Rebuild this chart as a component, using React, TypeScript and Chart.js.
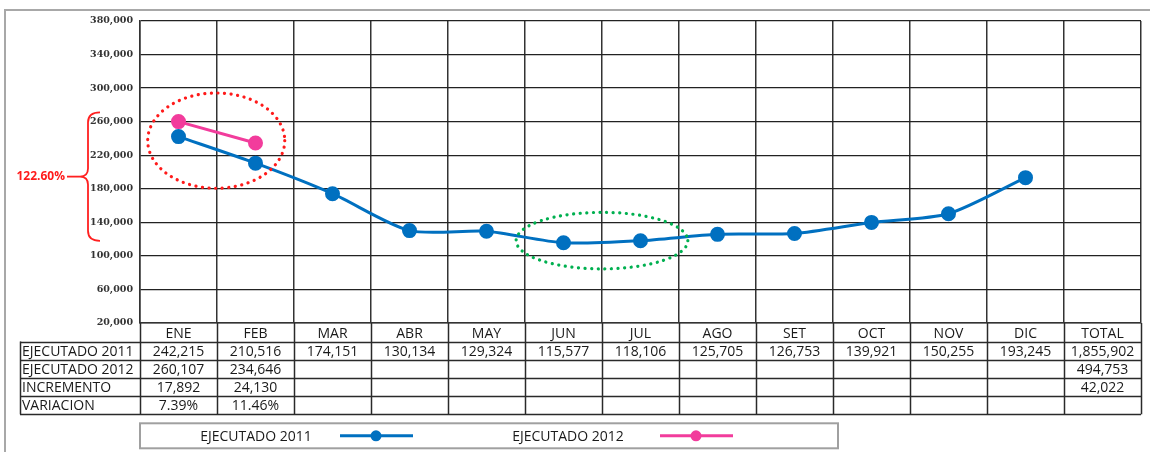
import React, { useEffect, useRef } from "react";
import { Chart, registerables } from "chart.js";

Chart.register(...registerables);

const months = ["ENE", "FEB", "MAR", "ABR", "MAY", "JUN", "JUL", "AGO", "SET", "OCT", "NOV", "DIC"];
const totalLabel = "TOTAL";
const ejecutado2011 = [242215, 210516, 174151, 130134, 129324, 115577, 118106, 125705, 126753, 139921, 150255, 193245];
const ejecutado2012 = [260107, 234646];
const incremento = [17892, 24130];
const variacion = ["7.39%", "11.46%"];
const total2011 = 1855902;
const total2012 = 494753;
const totalIncremento = 42022;
const rowLabels = ["EJECUTADO 2011", "EJECUTADO 2012", "INCREMENTO", "VARIACION"];
const seriesNames = ["EJECUTADO 2011", "EJECUTADO 2012"];
const yMin = 20000;
const yMax = 380000;
const yStep = 40000;
const bracketText = "122.60%";
const bracketRange = [271000, 118000];
const redEllipse = { x: [-0.4, 1.38], y: [294200, 180600] };
const greenEllipse = { x: [4.385, 6.615], y: [151900, 84500] };

const BLUE = "#0070C0";
const PINK = "#F23C9C";
const fmt = (v: number) => v.toLocaleString("en-US");

const tablePlugin = {
  id: "tablePlugin",
  afterDraw(chart: any) {
    const ctx = chart.ctx;
    const x = chart.scales.x;
    const ca = chart.chartArea;
    const n = months.length + 1;
    const colW = (ca.right - ca.left) / n;
    const rowTop = ca.bottom + 18.5;
    const rowH = 18.2;
    const labelLeft = 20;
    ctx.save();
    ctx.strokeStyle = "#2a2a2a";
    ctx.lineWidth = 1.5;
    const bottom = rowTop + rowH * 4;
    for (let i = 0; i <= n; i++) {
      const xx = Math.round(ca.left + colW * i) + 0.5;
      ctx.beginPath();
      ctx.moveTo(xx, ca.bottom);
      ctx.lineTo(xx, bottom);
      ctx.stroke();
    }
    for (let r = 0; r <= 4; r++) {
      const yy = Math.round(rowTop + rowH * r) + 0.5;
      ctx.beginPath();
      ctx.moveTo(labelLeft, yy);
      ctx.lineTo(ca.right, yy);
      ctx.stroke();
    }
    ctx.beginPath();
    ctx.moveTo(labelLeft + 0.5, rowTop);
    ctx.lineTo(labelLeft + 0.5, bottom);
    ctx.stroke();

    ctx.fillStyle = "#1a1a1a";
    ctx.font = "14px 'Open Sans'";
    ctx.textBaseline = "middle";
    ctx.textAlign = "left";
    rowLabels.forEach((l, r) => ctx.fillText(l, labelLeft + 2, rowTop + rowH * r + rowH / 2 + 1));
    ctx.textAlign = "center";
    const rows: (string | null)[][] = [
      ejecutado2011.map(fmt),
      ejecutado2012.map(fmt),
      incremento.map(fmt),
      variacion,
    ];
    rows.forEach((vals, r) => {
      vals.forEach((v, i) => {
        if (v != null) ctx.fillText(v, x.getPixelForValue(i), rowTop + rowH * r + rowH / 2 + 1);
      });
    });
    const totals = [fmt(total2011), fmt(total2012), fmt(totalIncremento), ""];
    totals.forEach((v, r) => ctx.fillText(v, x.getPixelForValue(months.length), rowTop + rowH * r + rowH / 2 + 1));

    // legend
    const lgTop = bottom + 9;
    const lgH = 25;
    const lgLeft = ca.left;
    const lgRight = 838;
    ctx.strokeStyle = "#a0a0a0";
    ctx.lineWidth = 2;
    ctx.strokeRect(lgLeft, lgTop, lgRight - lgLeft, lgH);
    const ly = lgTop + lgH / 2;
    const entries = [
      { name: seriesNames[0], color: BLUE, tx: 256, lx: 340 },
      { name: seriesNames[1], color: PINK, tx: 568, lx: 660 },
    ];
    ctx.font = "14px 'Open Sans'";
    entries.forEach((e) => {
      ctx.fillStyle = "#1a1a1a";
      ctx.fillText(e.name, e.tx, ly + 1);
      ctx.strokeStyle = e.color;
      ctx.lineWidth = 3;
      ctx.beginPath();
      ctx.moveTo(e.lx, ly);
      ctx.lineTo(e.lx + 73, ly);
      ctx.stroke();
      ctx.fillStyle = e.color;
      ctx.beginPath();
      ctx.arc(e.lx + 36, ly, 5.5, 0, Math.PI * 2);
      ctx.fill();
    });

    ctx.strokeStyle = "#a8a8a8";
    ctx.lineWidth = 2;
    ctx.strokeRect(5, 10, 1170, 470);
    ctx.restore();
  },
  afterDatasetsDraw(chart: any) {
    const ctx = chart.ctx;
    const x = chart.scales.x;
    const y = chart.scales.y;
    const ca = chart.chartArea;
    ctx.save();
    const drawEllipse = (e: any, color: string) => {
      const x1 = x.getPixelForValue(e.x[0]);
      const x2 = x.getPixelForValue(e.x[1]);
      const y1 = y.getPixelForValue(e.y[0]);
      const y2 = y.getPixelForValue(e.y[1]);
      ctx.strokeStyle = color;
      ctx.lineWidth = 3.2;
      ctx.setLineDash([0.1, 6.5]);
      ctx.lineCap = "round";
      ctx.beginPath();
      ctx.ellipse((x1 + x2) / 2, (y1 + y2) / 2, Math.abs(x2 - x1) / 2, Math.abs(y2 - y1) / 2, 0, 0, Math.PI * 2);
      ctx.stroke();
    };
    drawEllipse(redEllipse, "#FF1A1A");
    drawEllipse(greenEllipse, "#00B050");
    ctx.setLineDash([]);
    ctx.lineCap = "butt";

    const top = y.getPixelForValue(bracketRange[0]);
    const bot = y.getPixelForValue(bracketRange[1]);
    const mid = (top + bot) / 2;
    const bx = ca.left - 52;
    ctx.strokeStyle = "#FF2020";
    ctx.lineWidth = 1.8;
    ctx.beginPath();
    ctx.moveTo(bx + 12, top);
    ctx.quadraticCurveTo(bx, top, bx, top + 10);
    ctx.lineTo(bx, mid - 8);
    ctx.quadraticCurveTo(bx, mid, bx - 8, mid);
    ctx.quadraticCurveTo(bx, mid, bx, mid + 8);
    ctx.lineTo(bx, bot - 10);
    ctx.quadraticCurveTo(bx, bot, bx + 12, bot);
    ctx.stroke();
    ctx.beginPath();
    ctx.moveTo(bx - 8, mid);
    ctx.lineTo(bx - 21, mid);
    ctx.stroke();
    ctx.fillStyle = "#FF1A1A";
    ctx.font = "bold 12px 'Open Sans'";
    ctx.textAlign = "right";
    ctx.textBaseline = "middle";
    ctx.fillText(bracketText, bx - 23, mid);
    ctx.restore();
  },
};

export default function App() {
  const ref = useRef<HTMLCanvasElement | null>(null);
  useEffect(() => {
    if (!ref.current) return;
    const chart = new Chart(ref.current, {
      type: "line",
      data: {
        labels: [...months, totalLabel],
        datasets: [
          {
            label: seriesNames[0],
            data: ejecutado2011,
            borderColor: BLUE,
            backgroundColor: BLUE,
            borderWidth: 3,
            pointRadius: 6,
            pointHoverRadius: 6,
            tension: 0.25,
          },
          {
            label: seriesNames[1],
            data: ejecutado2012,
            borderColor: PINK,
            backgroundColor: PINK,
            borderWidth: 3,
            pointRadius: 6,
            pointHoverRadius: 6,
            tension: 0,
          },
        ],
      },
      options: {
        responsive: false,
        animation: false,
        layout: { padding: { left: 5, top: 21, right: -3, bottom: 0 } },
        plugins: { legend: { display: false }, tooltip: { enabled: false } },
        scales: {
          x: {
            type: "category",
            offset: true,
            grid: { offset: true, color: "#333", lineWidth: 1.5, drawTicks: false },
            border: { color: "#333", width: 1.5 },
            ticks: { color: "#1a1a1a", font: { family: "'Open Sans'", size: 14 }, padding: 3, maxRotation: 0, autoSkip: false },
            afterFit: (s: any) => { s.height = 129; s.paddingLeft = 0; s.paddingRight = 0; },
          },
          y: {
            min: yMin,
            max: yMax,
            grid: { color: "#222", lineWidth: 1.3, drawTicks: false },
            border: { color: "#333", width: 1.5 },
            ticks: {
              stepSize: yStep,
              color: "#333",
              font: { family: "'DejaVu Serif'", size: 9.5, weight: "bold" },
              padding: 7,
              callback: (v: any) => fmt(Number(v)),
            },
            afterFit: (s: any) => { s.width = 135; s.paddingTop = 0; s.paddingBottom = 0; },
          },
        },
      },
      plugins: [tablePlugin],
    });
    return () => chart.destroy();
  }, []);
  return (
    <div style={{ position: "absolute", left: 0, top: 0, width: 1150, height: 452, background: "#fff" }}>
      <canvas ref={ref} width={1150} height={452} style={{ width: 1150, height: 452 }} />
    </div>
  );
}
